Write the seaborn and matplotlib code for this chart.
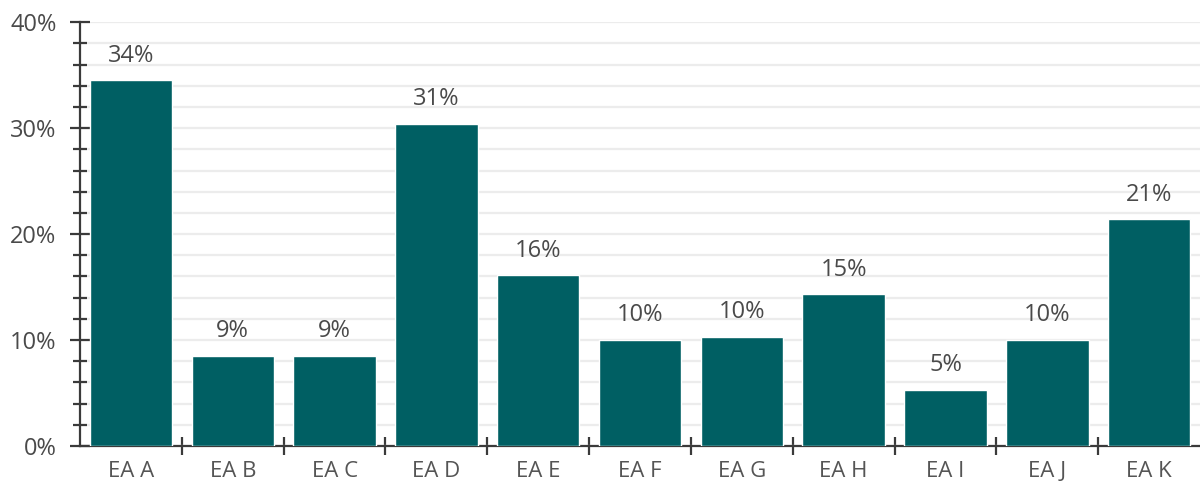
import matplotlib
matplotlib.use("Agg")
import matplotlib.pyplot as plt
import pandas as pd
import seaborn as sns
from matplotlib.ticker import MultipleLocator, FuncFormatter, FixedLocator

# Data
categories = ["EA A", "EA B", "EA C", "EA D", "EA E", "EA F", "EA G", "EA H", "EA I", "EA J", "EA K"]
shares = [34.5, 8.5, 8.5, 30.4, 16.1, 10.0, 10.3, 14.3, 5.3, 10.0, 21.4]
value_labels = ["34%", "9%", "9%", "31%", "16%", "10%", "10%", "15%", "5%", "10%", "21%"]

df = pd.DataFrame({"category": categories, "share": shares})

sns.set_theme(style="white")
plt.rcParams["font.family"] = ["Open Sans", "DejaVu Sans"]

text_color = "#4a4a4a"
bar_color = "#005F63"
axis_color = "#3a3a3a"

fig = plt.figure(figsize=(12, 4.93), dpi=100)
ax = fig.add_axes([0.0667, 0.0953, 0.9333, 0.8597])

sns.barplot(data=df, x="category", y="share", color=bar_color, width=0.81,
            saturation=1, ax=ax, zorder=3)

for i, lab in enumerate(value_labels):
    ax.text(i, shares[i] + 1.2, lab, ha="center", va="bottom",
            fontsize=17, color=text_color)

ax.set_xlim(-0.5, len(categories) - 0.5)
ax.set_ylim(0, 40)

# y axis: major every 10%, minor every 2%
ax.yaxis.set_major_locator(MultipleLocator(10))
ax.yaxis.set_minor_locator(MultipleLocator(2))
ax.yaxis.set_major_formatter(FuncFormatter(lambda v, _: f"{v:.0f}%"))
ax.grid(which="both", axis="y", color="#ececec", linewidth=1.6, zorder=0)
ax.set_axisbelow(True)

ax.tick_params(axis="y", which="both", left=True)
ax.tick_params(axis="y", which="major", direction="inout", length=14, width=1.6,
               color=axis_color, labelsize=17, labelcolor=text_color, pad=10)
ax.tick_params(axis="y", which="minor", direction="inout", length=10, width=1.6,
               color=axis_color)

# x axis: tick marks between categories
ax.xaxis.set_minor_locator(FixedLocator([i + 0.5 for i in range(len(categories) - 1)]))
ax.tick_params(axis="x", which="both", bottom=True)
ax.tick_params(axis="x", which="major", length=0, labelsize=16,
               labelcolor="#555555", pad=11)
ax.tick_params(axis="x", which="minor", direction="inout", length=13, width=1.6,
               color=axis_color)

for side in ["top", "right"]:
    ax.spines[side].set_visible(False)
for side in ["left", "bottom"]:
    ax.spines[side].set_color(axis_color)
    ax.spines[side].set_linewidth(1.6)

ax.set_xlabel("")
ax.set_ylabel("")

fig.savefig("out.png", dpi=100)
